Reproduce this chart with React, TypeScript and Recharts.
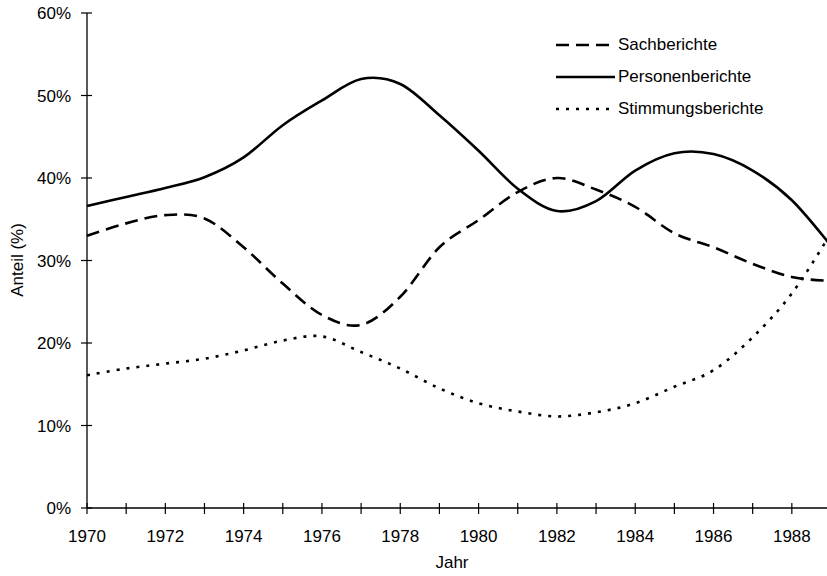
import React from "react";
import { Legend, Line, LineChart, XAxis, YAxis } from "recharts";

// Yearly shares in percent.
const years = [
  1970, 1971, 1972, 1973, 1974, 1975, 1976, 1977, 1978, 1979,
  1980, 1981, 1982, 1983, 1984, 1985, 1986, 1987, 1988, 1989,
];
const sachberichte = [
  33.0, 34.5, 35.5, 35.1, 31.6, 27.2, 23.4, 22.2, 25.6, 31.6,
  34.9, 38.3, 40.0, 38.6, 36.5, 33.3, 31.6, 29.6, 28.0, 27.5,
];
const personenberichte = [
  36.6, 37.7, 38.8, 40.1, 42.5, 46.4, 49.4, 52.0, 51.4, 47.6,
  43.3, 38.7, 36.0, 37.2, 40.9, 43.0, 42.9, 40.9, 37.3, 31.8,
];
const stimmungsberichte = [
  16.1, 16.9, 17.5, 18.1, 19.1, 20.3, 20.8, 18.9, 16.9, 14.5,
  12.7, 11.7, 11.1, 11.6, 12.7, 14.7, 16.7, 20.7, 26.0, 33.3,
];
const yTicks = [0, 10, 20, 30, 40, 50, 60];

const SERIES = [
  { key: "Sachberichte", dash: "13 7" },
  { key: "Personenberichte", dash: undefined },
  { key: "Stimmungsberichte", dash: "3 7" },
];

const FONT = "'Liberation Sans', Arial, Helvetica, sans-serif";

const rows = years.map((year, i) => ({
  year,
  Sachberichte: sachberichte[i],
  Personenberichte: personenberichte[i],
  Stimmungsberichte: stimmungsberichte[i],
}));

// Excel-style smoothing (Catmull-Rom through every point).
const smoothCurve = (context: any) => {
  let pts: number[][] = [];
  return {
    areaStart() {},
    areaEnd() {},
    lineStart() {
      pts = [];
    },
    point(x: number, y: number) {
      pts.push([+x, +y]);
    },
    lineEnd() {
      const n = pts.length;
      if (!n) return;
      context.moveTo(pts[0][0], pts[0][1]);
      for (let i = 0; i < n - 1; i++) {
        const p0 = pts[i - 1] || pts[i];
        const p1 = pts[i];
        const p2 = pts[i + 1];
        const p3 = pts[i + 2] || p2;
        context.bezierCurveTo(
          p1[0] + (p2[0] - p0[0]) / 6,
          p1[1] + (p2[1] - p0[1]) / 6,
          p2[0] - (p3[0] - p1[0]) / 6,
          p2[1] - (p3[1] - p1[1]) / 6,
          p2[0],
          p2[1]
        );
      }
    },
  };
};

const XTick = ({ x, y, payload }: any) => (
  <g>
    <line x1={x} x2={x} y1={y - 5} y2={y + 6} stroke="#000" strokeWidth={1.2} />
    {payload.value % 2 === 0 && (
      <text x={x} y={y + 34} textAnchor="middle" fontSize={17} fill="#000" fontFamily={FONT}>
        {payload.value}
      </text>
    )}
  </g>
);

const YTick = ({ x, y, payload }: any) => (
  <g>
    <line x1={x - 6} x2={x + 5} y1={y} y2={y} stroke="#000" strokeWidth={1.2} />
    <text x={x - 16} y={y + 6} textAnchor="end" fontSize={17} fill="#000" fontFamily={FONT}>
      {payload.value}%
    </text>
  </g>
);

const LegendBox = () => (
  <div style={{ fontFamily: FONT, fontSize: 17, color: "#000" }}>
    {SERIES.map((s) => (
      <div key={s.key} style={{ display: "flex", alignItems: "center", height: 32 }}>
        <svg width={62} height={32} style={{ display: "block" }}>
          <line
            x1={0}
            x2={59}
            y1={16}
            y2={16}
            stroke="#000"
            strokeWidth={2.6}
            strokeDasharray={s.dash}
          />
        </svg>
        <span style={{ lineHeight: "32px", whiteSpace: "nowrap" }}>{s.key}</span>
      </div>
    ))}
  </div>
);

export default function App() {
  return (
    <div
      style={{
        position: "absolute",
        left: 0,
        top: 0,
        width: 827,
        height: 576,
        overflow: "hidden",
        background: "#fff",
      }}
    >
      <LineChart
        width={870}
        height={576}
        data={rows}
        margin={{ top: 13, right: 39, left: 0, bottom: 0 }}
        style={{ fontFamily: FONT }}
      >
        <XAxis
          dataKey="year"
          type="number"
          domain={[1970, 1989]}
          ticks={years}
          interval={0}
          height={68}
          tickSize={0}
          tickMargin={0}
          tickLine={false}
          tick={<XTick />}
          axisLine={{ stroke: "#000", strokeWidth: 1.3 }}
          label={{
            content: () => (
              <text x={452} y={568} textAnchor="middle" fontSize={17} fill="#000" fontFamily={FONT}>
                Jahr
              </text>
            ),
          }}
        />
        <YAxis
          type="number"
          domain={[0, 60]}
          ticks={yTicks}
          interval={0}
          width={87}
          tickSize={0}
          tickMargin={0}
          tickLine={false}
          tick={<YTick />}
          axisLine={{ stroke: "#000", strokeWidth: 1.3 }}
          label={{
            content: () => (
              <text
                x={23}
                y={260}
                transform="rotate(-90 23 260)"
                textAnchor="middle"
                fontSize={17}
                fill="#000"
                fontFamily={FONT}
              >
                Anteil (%)
              </text>
            ),
          }}
        />
        <Legend
          layout="vertical"
          align="center"
          verticalAlign="middle"
          content={<LegendBox />}
          wrapperStyle={{ left: 556, top: 29, width: 260 }}
        />
        {SERIES.map((s) => (
          <Line
            key={s.key}
            dataKey={s.key}
            type={smoothCurve as any}
            stroke="#000"
            strokeWidth={2.6}
            strokeDasharray={s.dash}
            dot={false}
            activeDot={false}
            isAnimationActive={false}
          />
        ))}
      </LineChart>
    </div>
  );
}
